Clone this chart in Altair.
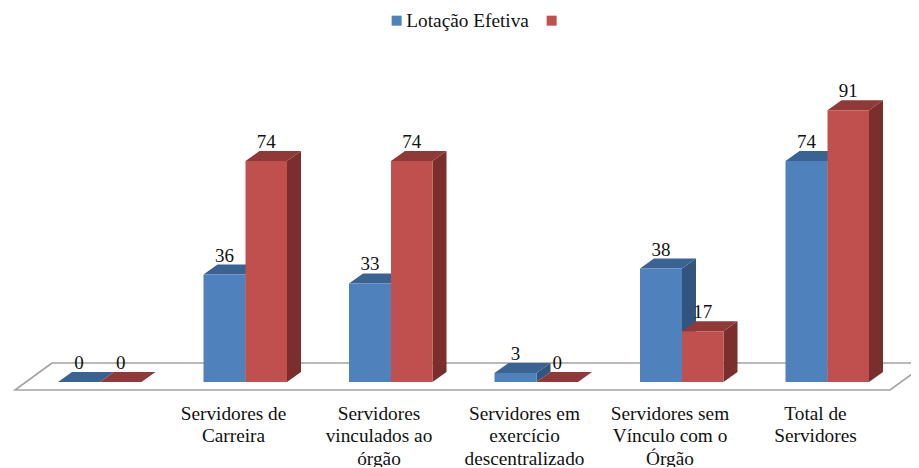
import json
import altair as alt
import pandas as pd

categories = ["", "Servidores de Carreira", "Servidores vinculados ao órgão",
              "Servidores em exercício descentralizado",
              "Servidores sem Vínculo com o Órgão", "Total de Servidores"]
axis_lines = [[""], ["Servidores de", "Carreira"], ["Servidores", "vinculados ao", "órgão"],
              ["Servidores em", "exercício", "descentralizado"],
              ["Servidores sem", "Vínculo com o", "Órgão"], ["Total de", "Servidores"]]
series_names = ["Lotação Efetiva", " "]
lotacao = [0, 36, 33, 3, 38, 74]
segundo = [0, 74, 74, 0, 17, 91]

FONT = "Liberation Serif"
W, H = 903, 387          # plot area in pixels
SPACING = 145.5          # px per category
UNIT = 2.985             # px per value unit
X0, Y0 = 87.5 - 8, 382 - 8   # pixel position of category 0 / value 0 inside the plot


def xu(px):              # px offset to category units
    return px / SPACING


def yu(px):              # px offset to value units
    return px / UNIT


BAR_L, BAR_M, BAR_R = xu(-29.5), xu(12.5), xu(54)
DX, DY = xu(14), yu(10)
x_domain = [xu(-X0), xu(W - X0)]
y_domain = [yu(Y0 - H), yu(Y0)]

front, faces, labels = [], [], []
for name, values, (l, r) in zip(series_names, [lotacao, segundo],
                                [(BAR_L, BAR_M), (BAR_M, BAR_R)]):
    for i, v in enumerate(values):
        a, b = i + l, i + r
        front.append(dict(series=name, x=a, x2=b, y=0, y2=v))
        labels.append(dict(x=(a + b) / 2, y=v, t=str(v)))
        faces += [dict(series=name, face="side", id=i, x=b, lo=0, hi=v),
                  dict(series=name, face="side", id=i, x=b + DX, lo=DY, hi=v + DY),
                  dict(series=name, face="top", id=i, x=a, lo=v, hi=v),
                  dict(series=name, face="top", id=i, x=a + DX, lo=v, hi=v + DY),
                  dict(series=name, face="top", id=i, x=b, lo=v, hi=v + DY),
                  dict(series=name, face="top", id=i, x=b + DX, lo=v + DY, hi=v + DY)]
faces = pd.DataFrame(faces)
front = pd.DataFrame(front)
labels = pd.DataFrame(labels)

# floor outline
fl, fr, bl, br = xu(15 - 87.5), xu(890 - 87.5), xu(52 - 87.5), xu(927 - 87.5)
low, high = yu(382 - 390), yu(382 - 363)
floor = pd.DataFrame([dict(o=0, x=bl, y=high), dict(o=1, x=br, y=high), dict(o=2, x=fr, y=low),
                      dict(o=3, x=fl, y=low), dict(o=4, x=bl, y=high)])

xs = alt.Scale(domain=x_domain, nice=False, zero=False)
ys = alt.Scale(domain=y_domain, nice=False, zero=False)
x_axis = alt.Axis(
    values=list(range(len(categories))), domain=False, ticks=False, grid=False,
    labelExpr=json.dumps(axis_lines) + "[datum.value]", labelFont=FONT, labelFontSize=19.3,
    labelColor="#111111", labelPadding=9, labelLineHeight=22.5, labelOverlap=False,
    labelBound=False, labelFlush=False, labelBaseline="top")
X = alt.X("x:Q", scale=xs, axis=x_axis, title=None)
Y = alt.Y("y:Q", scale=ys, axis=None)

floor_layer = alt.Chart(floor).mark_line(color="#a3a3a3", strokeWidth=1.6, clip=True).encode(
    x=X, y=Y, order="o:Q")

colors = {series_names[0]: dict(side="#31557f", top="#3b6391", front="#4f81bd"),
          series_names[1]: dict(side="#7b2f2d", top="#8f3a38", front="#c0504d")}


def face_layer(series, face):
    d = faces[(faces.series == series) & (faces.face == face)]
    return alt.Chart(d).mark_area(color=colors[series][face], interpolate="linear",
                                  orient="vertical", opacity=1).encode(
        x=X, y=alt.Y("lo:Q", scale=ys, axis=None, stack=None), y2="hi:Q", detail="id:N")


def front_layer(series):
    return alt.Chart(front[front.series == series]).mark_rect().encode(
        x=X, x2="x2:Q", y=Y, y2="y2:Q",
        color=alt.Color("series:N", title=None,
                        scale=alt.Scale(domain=series_names,
                                        range=[colors[s]["front"] for s in series_names]),
                        legend=alt.Legend(orient="none", legendX=379, legendY=3, direction="horizontal",
                                          symbolType="square", symbolSize=100, symbolStrokeWidth=0,
                                          labelFont=FONT, labelFontSize=19.3, labelColor="#111111",
                                          labelOffset=0, columnPadding=13, padding=0,
                                          values=series_names)))


text_layer = alt.Chart(labels).mark_text(font=FONT, fontSize=19, color="#111111", baseline="bottom",
                                         dy=-9).encode(x=X, y=Y, text="t:N")

layers = [floor_layer]
for s in series_names:
    layers += [face_layer(s, "side"), face_layer(s, "top"), front_layer(s)]
layers.append(text_layer)

chart = alt.layer(*layers).properties(
    width=W, height=H, autosize=alt.AutoSizeParams(type="none"),
    padding={"left": 0, "top": 0, "right": 0, "bottom": 72}, background="white"
).configure_view(stroke=None)

chart.save("out.html", embed_options={"renderer": "svg", "actions": False})
